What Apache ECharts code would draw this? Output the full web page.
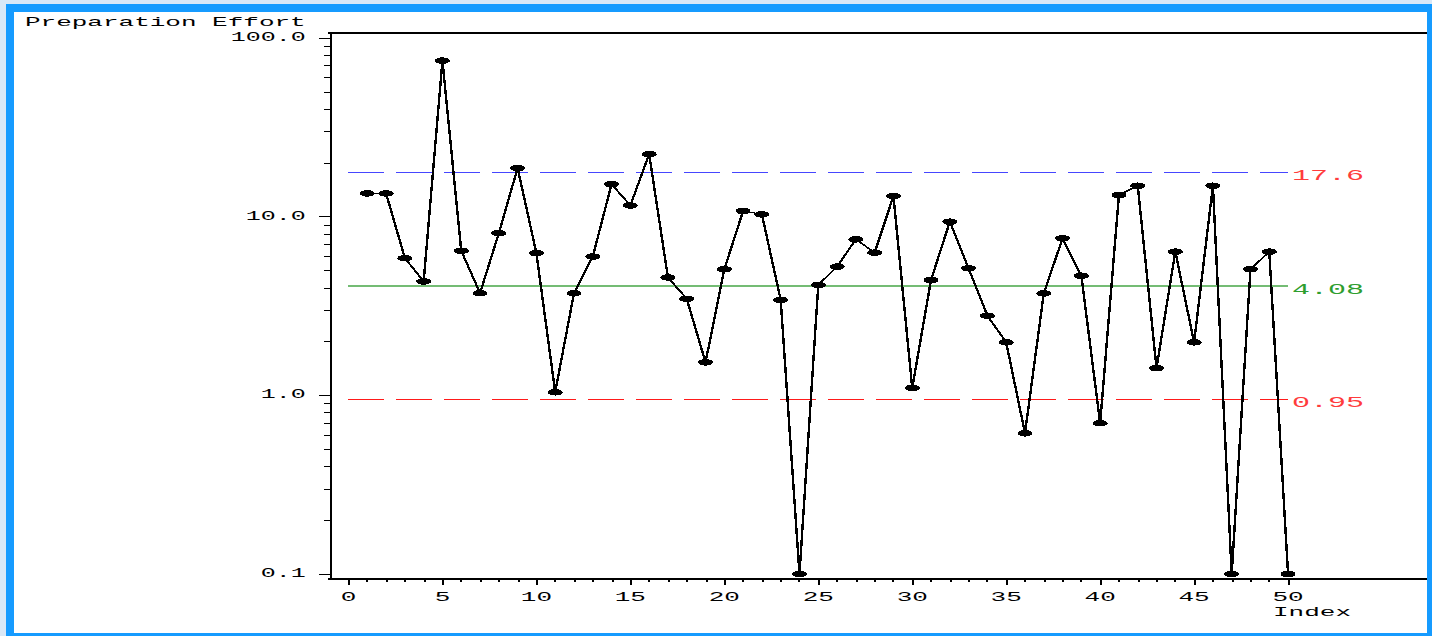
<!DOCTYPE html>
<html>
<head>
<meta charset="utf-8">
<title>Preparation Effort</title>
<script src="https://cdn.jsdelivr.net/npm/echarts@6/dist/echarts.min.js"></script>
<style>
  html, body { margin: 0; padding: 0; width: 1432px; height: 636px; overflow: hidden; background: #d9e8f7; }
  #panel { position: absolute; left: 14px; top: 12px; width: 1413px; height: 621px; background: #ffffff; }
  #frame { position: absolute; left: 6px; top: 4px; width: 1413px; height: 621px; border: 8px solid #169bff; pointer-events: none; z-index: 3; }
  /* the plot is laid out at half width and stretched 2x horizontally */
  #chart { position: absolute; left: 0; top: 0; width: 716px; height: 636px; transform: scaleX(2); transform-origin: 0 0; z-index: 2; }
  /* hard, pixel-aligned strokes */
  #chart svg path { shape-rendering: crispEdges; }
</style>
</head>
<body>
<div id="panel"></div>
<div id="chart"></div>
<div id="frame"></div>
<script>
// Observation index and preparation effort per observation
const indexValues = [
  1, 2, 3, 4, 5, 6, 7, 8, 9, 10,
  11, 12, 13, 14, 15, 16, 17, 18, 19, 20,
  21, 22, 23, 24, 25, 26, 27, 28, 29, 30,
  31, 32, 33, 34, 35, 36, 37, 38, 39, 40,
  41, 42, 43, 44, 45, 46, 47, 48, 49, 50
];
const effort = [
  13.5, 13.5, 5.86, 4.34, 74.7, 6.44, 3.73, 8.09, 18.7, 6.25,
  1.04, 3.73, 5.98, 15.2, 11.55, 22.4, 4.57, 3.47, 1.53, 5.08,
  10.76, 10.3, 3.42, 0.1, 4.15, 5.25, 7.47, 6.29, 13.05, 1.10,
  4.42, 9.37, 5.14, 2.79, 1.98, 0.613, 3.72, 7.57, 4.67, 0.698,
  13.22, 14.9, 1.42, 6.37, 1.98, 14.9, 0.1, 5.08, 6.37, 0.1
];

// Control limits
const upperLimit = 17.6;
const centerLine = 4.08;
const lowerLimit = 0.95;
const limitSpan = [0, 50];

// Tick values
const xMajorTicks = [0, 5, 10, 15, 20, 25, 30, 35, 40, 45, 50];
const xMinorTicks = [
  1, 2, 3, 4, 6, 7, 8, 9, 11, 12, 13, 14, 16, 17, 18, 19,
  21, 22, 23, 24, 26, 27, 28, 29, 31, 32, 33, 34, 36, 37, 38, 39,
  41, 42, 43, 44, 46, 47, 48, 49
];
const yRange = [0.1, 100];
const yMinorTicks = [
  0.2, 0.3, 0.4, 0.5, 0.6, 0.7, 0.8, 0.9,
  2, 3, 4, 5, 6, 7, 8, 9,
  20, 30, 40, 50, 60, 70, 80, 90
];
const xRange = [-1, 57.42];

const FONT = 'Liberation Mono';
const INK = '#000000';

const observations = indexValues.map((x, i) => [x, effort[i]]);

// A horizontal control-limit line across the observation span, labelled with its value
function limitSeries(value, lineColor, dash, width, textColor) {
  return {
    type: 'line',
    xAxisIndex: 3,
    yAxisIndex: 1,
    data: [[limitSpan[0], value], [limitSpan[1], value]],
    color: lineColor,
    symbol: 'none',
    silent: true,
    clip: false,
    z: 1,
    lineStyle: { color: lineColor, type: dash, width: width, opacity: 1 },
    itemStyle: { color: lineColor },
    emphasis: { disabled: true },
    endLabel: {
      show: true,
      formatter: () => String(value),
      color: textColor,
      distance: 2,
      fontFamily: FONT,
      fontSize: 15,
      verticalAlign: 'top',
      lineHeight: 7
    }
  };
}

const chart = echarts.init(document.getElementById('chart'), null, { renderer: 'svg' });

const frameGrid = { left: 164.85, right: 2.25, top: 33, bottom: 57, containLabel: false, outerBoundsMode: 'none' };
const plotGrid = { left: 164.85, right: 2.25, top: 38, bottom: 62, containLabel: false, outerBoundsMode: 'none' };

chart.setOption({
  animation: false,
  backgroundColor: 'transparent',
  color: ['#4646ff', '#74bc74', '#ff2020', INK],
  grid: [frameGrid, plotGrid],
  xAxis: [
    {
      // bottom axis with labelled major ticks
      gridIndex: 0, type: 'value', position: 'bottom', min: xRange[0], max: xRange[1],
      axisLine: { show: true, onZero: false, lineStyle: { color: INK, width: 1.6 } },
      axisTick: { show: true, length: 6, customValues: xMajorTicks, lineStyle: { color: INK, width: 1 } },
      axisLabel: { show: true, customValues: xMajorTicks, margin: 12, color: INK, fontFamily: FONT, fontSize: 13 },
      splitLine: { show: false },
      name: 'Index', nameLocation: 'end', nameGap: -57.75, nameMoveOverlap: false,
      nameTextStyle: { color: INK, fontFamily: FONT, fontSize: 13, align: 'center', verticalAlign: 'top', lineHeight: 68 }
    },
    {
      // minor ticks
      gridIndex: 0, type: 'value', position: 'bottom', min: xRange[0], max: xRange[1],
      axisLine: { show: false, onZero: false },
      axisTick: { show: true, length: 3, customValues: xMinorTicks, lineStyle: { color: INK, width: 1 } },
      axisLabel: { show: false },
      splitLine: { show: false }
    },
    {
      // top edge of the frame
      gridIndex: 0, type: 'value', position: 'top', min: xRange[0], max: xRange[1],
      axisLine: { show: true, onZero: false, lineStyle: { color: INK, width: 1.6 } },
      axisTick: { show: false }, axisLabel: { show: false }, splitLine: { show: false }
    },
    {
      // data axis of the plot area
      gridIndex: 1, type: 'value', position: 'bottom', min: xRange[0], max: xRange[1],
      show: false, splitLine: { show: false }
    }
  ],
  yAxis: [
    {
      // left edge of the frame
      gridIndex: 0, type: 'value', position: 'left', min: 0, max: 1,
      axisLine: { show: true, onZero: false, lineStyle: { color: INK, width: 1.2 } },
      axisTick: { show: false }, axisLabel: { show: false }, splitLine: { show: false }
    },
    {
      gridIndex: 1, type: 'log', logBase: 10, position: 'left', min: yRange[0], max: yRange[1],
      axisLine: { show: false, onZero: false },
      axisTick: { show: true, length: 5.5, lineStyle: { color: INK, width: 1 } },
      axisLabel: {
        show: true, margin: 12, color: INK, fontFamily: FONT, fontSize: 12.5,
        formatter: (v) => Number(v).toFixed(1)
      },
      splitLine: { show: false },
      minorTick: { show: false },
      name: 'Preparation Effort', nameLocation: 'end', nameGap: 15, nameMoveOverlap: false,
      nameTextStyle: { color: INK, fontFamily: FONT, fontSize: 13, align: 'right', verticalAlign: 'middle', padding: [0, 12, 0, 0] }
    },
    {
      // minor ticks at 2..9 of each decade
      gridIndex: 1, type: 'log', logBase: 10, position: 'left', min: yRange[0], max: yRange[1],
      axisLine: { show: false, onZero: false },
      axisTick: { show: true, length: 3, customValues: yMinorTicks, lineStyle: { color: INK, width: 1 } },
      axisLabel: { show: false },
      splitLine: { show: false }
    }
  ],
  series: [
    limitSeries(upperLimit, '#4646ff', [18, 6], 1.3, '#ff3c3c'),
    limitSeries(centerLine, '#74bc74', 'solid', 1.5, '#2f9e2f'),
    limitSeries(lowerLimit, '#ff1a1a', [18, 6], 1.5, '#ff3c3c'),
    {
      type: 'line',
      xAxisIndex: 3,
      yAxisIndex: 1,
      data: observations,
      color: INK,
      clip: false,
      z: 3,
      symbol: 'circle',
      symbolSize: [7.5, 6.5],
      showAllSymbol: true,
      lineStyle: { color: INK, width: 1.2 },
      itemStyle: { color: INK },
      emphasis: { disabled: true }
    }
  ]
});
</script>
</body>
</html>
